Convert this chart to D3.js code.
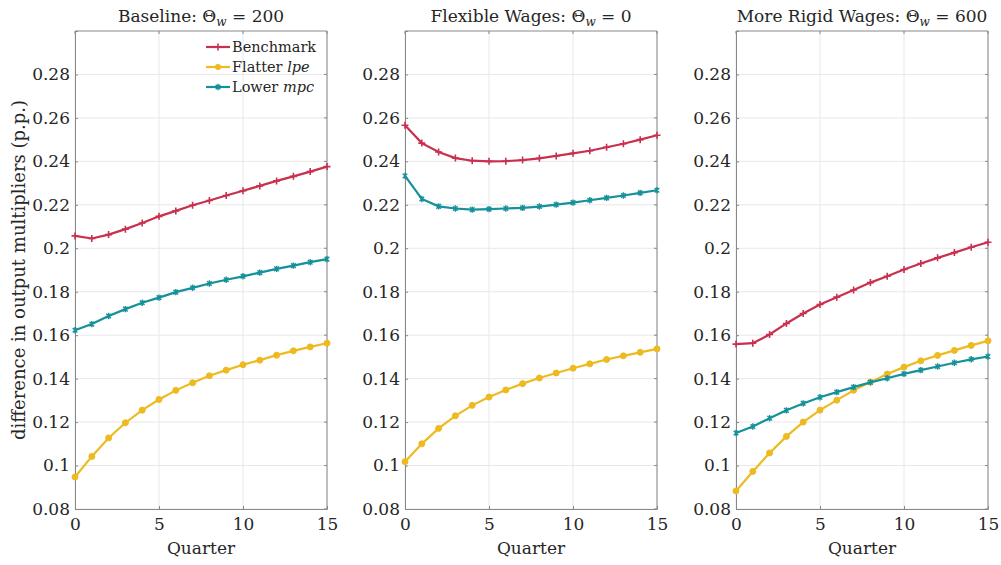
<!DOCTYPE html>
<html><head><meta charset="utf-8">
<script src="https://cdn.jsdelivr.net/npm/d3@7"></script>
<style>
body{margin:0;background:#fff;}
svg text{font-family:"DejaVu Serif",serif !important;fill:#262626;}
</style></head>
<body><svg id="c" width="1001" height="565"></svg>
<script>
const quarters = d3.range(0,16);
const seriesNames = ["Benchmark","Flatter lpe","Lower mpc"];
const panelTitles = ["Baseline: ", "Flexible Wages: ", "More Rigid Wages: "];
const panelTheta = ["200","0","600"];
const yTicks = [0.08,0.1,0.12,0.14,0.16,0.18,0.2,0.22,0.24,0.26,0.28];
const xTicks = [0,5,10,15];

const baseBench = [0.2057,0.2045,0.2063,0.2088,0.2116,0.2147,0.2172,0.2198,0.2220,0.2243,0.2265,0.2287,0.2310,0.2331,0.2353,0.2376];
const baseLpe   = [0.0947,0.1042,0.1127,0.1197,0.1255,0.1304,0.1346,0.1381,0.1413,0.1439,0.1464,0.1485,0.1508,0.1528,0.1546,0.1563];
const baseMpc   = [0.1623,0.1651,0.1688,0.1720,0.1749,0.1773,0.1798,0.1818,0.1838,0.1855,0.1871,0.1888,0.1905,0.1920,0.1936,0.1950];

const flexBench = [0.2566,0.2484,0.2443,0.2415,0.2403,0.2400,0.2401,0.2406,0.2414,0.2425,0.2437,0.2449,0.2465,0.2481,0.2500,0.2520];
const flexLpe   = [0.1018,0.1100,0.1171,0.1229,0.1277,0.1315,0.1348,0.1377,0.1403,0.1426,0.1448,0.1468,0.1488,0.1505,0.1521,0.1537];
const flexMpc   = [0.2333,0.2227,0.2193,0.2183,0.2178,0.2180,0.2183,0.2186,0.2192,0.2201,0.2210,0.2221,0.2232,0.2243,0.2255,0.2267];

const rigidBench = [0.1559,0.1563,0.1603,0.1654,0.1700,0.1741,0.1775,0.1808,0.1842,0.1871,0.1902,0.1930,0.1956,0.1980,0.2005,0.2028];
const rigidLpe   = [0.0883,0.0973,0.1058,0.1134,0.1200,0.1255,0.1301,0.1346,0.1384,0.1421,0.1453,0.1482,0.1507,0.1530,0.1553,0.1574];
const rigidMpc   = [0.1150,0.1180,0.1218,0.1254,0.1286,0.1314,0.1338,0.1361,0.1383,0.1402,0.1422,0.1439,0.1456,0.1473,0.1489,0.1502];

const panels = [
  [baseBench, baseLpe, baseMpc],
  [flexBench, flexLpe, flexMpc],
  [rigidBench, rigidLpe, rigidMpc]
];
const colors = ["#C9304F","#EDBA1F","#14919A"];
const markers = ["plus","circle","star"];

const svg = d3.select("#c");
const panelLeft = [75,405,736];
const pw = 252, plotTop = 31, plotBottom = 509;
const y = d3.scaleLinear().domain([0.08,0.30]).range([plotBottom, plotTop]);

panels.forEach((data, pi) => {
  const x = d3.scaleLinear().domain([0,15]).range([panelLeft[pi], panelLeft[pi]+pw]);
  const g = svg.append("g");
  g.selectAll(".gy").data(yTicks).enter().append("line")
    .attr("x1", x(0)).attr("x2", x(15)).attr("y1", d=>y(d)).attr("y2", d=>y(d))
    .attr("stroke","#e8e8e8").attr("stroke-width",1);
  g.selectAll(".gx").data(xTicks).enter().append("line")
    .attr("x1", d=>x(d)).attr("x2", d=>x(d)).attr("y1", plotTop).attr("y2", plotBottom)
    .attr("stroke","#e8e8e8").attr("stroke-width",1);
  const ax = d3.axisBottom(x).tickValues(xTicks).tickSize(-3).tickPadding(7).tickFormat(d3.format("d"));
  const gx = g.append("g").attr("transform",`translate(0,${plotBottom})`).call(ax);
  const ay = d3.axisLeft(y).tickValues(yTicks).tickSize(-3).tickPadding(5).tickFormat(d => d3.format(".2~f")(d));
  const gy = g.append("g").attr("transform",`translate(${x(0)},0)`).call(ay);
  [gx,gy].forEach(a => {
    a.attr("font-family", null);
    a.select(".domain").attr("stroke","#888");
    a.selectAll(".tick line").attr("stroke","#888");
    a.selectAll("text").style("font-size","17px").attr("fill","#262626");
  });
  gx.selectAll("text").attr("dy","0.85em");
  g.append("line").attr("x1",x(0)).attr("x2",x(15)).attr("y1",plotTop).attr("y2",plotTop).attr("stroke","#888");
  g.append("line").attr("x1",x(15)).attr("x2",x(15)).attr("y1",plotTop).attr("y2",plotBottom).attr("stroke","#888");
  g.selectAll(".rt").data(yTicks).enter().append("line")
    .attr("x1",x(15)).attr("x2",x(15)-3).attr("y1",d=>y(d)).attr("y2",d=>y(d)).attr("stroke","#888");
  g.selectAll(".tt").data(xTicks).enter().append("line")
    .attr("x1",d=>x(d)).attr("x2",d=>x(d)).attr("y1",plotTop).attr("y2",plotTop+3).attr("stroke","#888");

  const line = d3.line().x((d,i)=>x(quarters[i])).y(d=>y(d));
  data.forEach((s, si) => {
    g.append("path").datum(s).attr("d", line).attr("fill","none")
      .attr("stroke", colors[si]).attr("stroke-width",2.2);
    const mg = g.append("g");
    s.forEach((v,i) => {
      const cx = x(quarters[i]), cy = y(v);
      if (markers[si]==="plus") {
        mg.append("path").attr("d",`M${cx},${cy-3.5}V${cy+3.5}M${cx-3.5},${cy}H${cx+3.5}`)
          .attr("stroke",colors[si]).attr("stroke-width",1.6);
      } else if (markers[si]==="circle") {
        mg.append("circle").attr("cx",cx).attr("cy",cy).attr("r",3)
          .attr("fill",colors[si]).attr("stroke",colors[si]).attr("stroke-width",1);
      } else {
        const r=3.2, r2=2.3;
        mg.append("path").attr("d",`M${cx},${cy-r}V${cy+r}M${cx-r2},${cy-r2}L${cx+r2},${cy+r2}M${cx-r2},${cy+r2}L${cx+r2},${cy-r2}`)
          .attr("stroke",colors[si]).attr("stroke-width",1.4);
      }
    });
  });

  const t = svg.append("text").attr("x", x(7.5)).attr("y", 22).attr("text-anchor","middle")
    .style("font-size","17px");
  t.append("tspan").text(panelTitles[pi]);
  t.append("tspan").text("Θ");
  t.append("tspan").style("font-style","italic").style("font-size","12px").attr("dy",4).text("w");
  t.append("tspan").attr("dy",-4).text(" = " + panelTheta[pi]);

  svg.append("text").attr("x", x(7.5)).attr("y", 554).attr("text-anchor","middle")
    .style("font-size","17px").text("Quarter");
});

svg.append("text").attr("transform","translate(25,270) rotate(-90)").attr("text-anchor","middle")
  .style("font-size","18px").text("difference in output multipliers (p.p.)");

const lg = svg.append("g");
const lx = 206, ly0 = 47, ldy = 20;
seriesNames.forEach((name, i) => {
  const yy = ly0 + i*ldy;
  lg.append("line").attr("x1",lx).attr("x2",lx+24).attr("y1",yy).attr("y2",yy)
    .attr("stroke",colors[i]).attr("stroke-width",2.2);
  const cx = lx+12;
  if (markers[i]==="plus") {
    lg.append("path").attr("d",`M${cx},${yy-3.5}V${yy+3.5}`).attr("stroke",colors[i]).attr("stroke-width",1.6);
  } else if (markers[i]==="circle") {
    lg.append("circle").attr("cx",cx).attr("cy",yy).attr("r",3).attr("fill",colors[i]);
  } else {
    lg.append("path").attr("d",`M${cx},${yy-3.2}V${yy+3.2}M${cx-2.3},${yy-2.3}L${cx+2.3},${yy+2.3}M${cx-2.3},${yy+2.3}L${cx+2.3},${yy-2.3}`)
      .attr("stroke",colors[i]).attr("stroke-width",1.4);
  }
  const parts = name.split(" ");
  const t = lg.append("text").attr("x",lx+26).attr("y",yy+5).style("font-size","14.5px");
  t.append("tspan").text(parts[0]+" ");
  t.append("tspan").style("font-style", i===0 ? "normal" : "italic").text(parts.slice(1).join(" "));
});
</script></body></html>
